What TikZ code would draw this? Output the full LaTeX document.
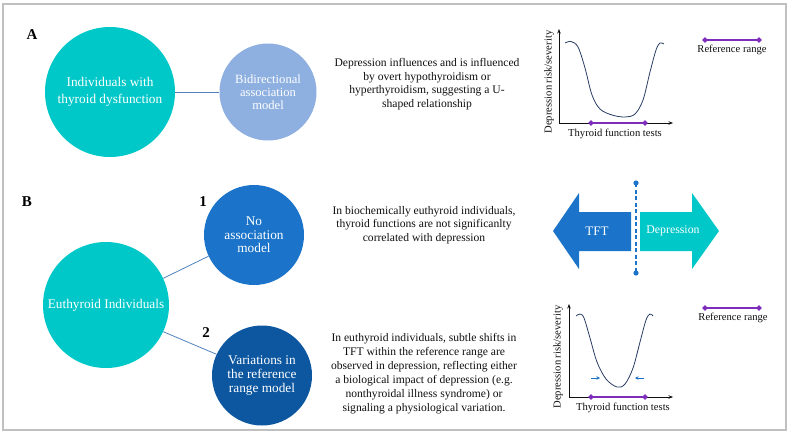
\documentclass[tikz,border=0pt]{standalone}
\usepackage{fontspec}
\setmainfont{Liberation Serif}
\usetikzlibrary{arrows.meta,shapes.geometric}
\definecolor{tealc}{RGB}{0,200,200}
\definecolor{lightb}{RGB}{141,176,224}
\definecolor{midb}{RGB}{27,116,201}
\definecolor{darkb}{RGB}{13,87,160}
\definecolor{linkb}{RGB}{79,129,189}
\definecolor{refp}{RGB}{125,45,185}
\definecolor{curvec}{RGB}{40,60,100}
\definecolor{framec}{RGB}{192,192,192}
\definecolor{txt}{RGB}{15,15,15}
\begin{document}
\begin{tikzpicture}[x=1pt,y=-1pt,
  circ/.style={circle, inner sep=0pt, text=white, align=center, font=\fontsize{13}{14}\selectfont},
  desc/.style={align=center, text=txt, font=\fontsize{11.6}{13.6}\selectfont},
  lbl/.style={text=txt, font=\fontsize{10.6}{12}\selectfont, inner sep=0pt},
  panel/.style={text=black, font=\bfseries\fontsize{15}{17}\selectfont, inner sep=0pt},
  link/.style={draw=linkb, line width=0.8pt},
  refbar/.style={draw=refp, line width=2.2pt},
  dmd/.style={diamond, fill=refp, minimum size=6pt, inner sep=0pt},
  axis/.style={line width=0.7pt, draw=txt, -{Stealth[length=4.5pt,width=3.5pt]}},
  curve/.style={draw=curvec, line width=0.8pt},
  shift arrow/.style={draw=midb, line width=1pt, -{Stealth[length=3.5pt,width=3.5pt]}}
]
\useasboundingbox (0,0) rectangle (791,434);
\draw[framec, line width=2pt] (3,4) rectangle (786,430);

% ---------------- Panel A ----------------
\node[panel] (A) at (32,35) {A};
\node[circ, fill=tealc, minimum size=130pt, font=\fontsize{13.3}{16.5}\selectfont] (c1) at (110,92) {Individuals with\\thyroid dysfunction};
\node[circ, fill=lightb, minimum size=97pt, font=\fontsize{12.6}{12.8}\selectfont] (c2) at (268,92) {Bidirectional\\association\\model};
\draw[link] (c1) -- (c2);
\node[desc] (tA) at (427,84) {Depression influences and is influenced\\by overt hypothyroidism or\\hyperthyroidism, suggesting a U-\\shaped relationship};

% graph A
\coordinate (oA) at (559,123);
\coordinate (yA) at (559,29);
\coordinate (xA) at (673,123);
\draw[axis] (oA) -- (yA);
\draw[axis] (oA) -- (xA);
\draw[curve] plot[smooth, tension=0.55] coordinates {(565,43) (571,41.5) (578,47) (585,68) (592,95) (600,109) (612,115) (625,117) (635,114) (643,100) (650,72) (656,50) (660,43) (664,44)};
\node[dmd] (rA1) at (591,123) {};
\node[dmd] (rA2) at (645,123) {};
\draw[refbar] (rA1.center) -- (rA2.center);
\node[lbl] (xlA) at (615,134) {Thyroid function tests};
\node[lbl, rotate=90] (ylA) at (549,82) {Depression risk/severity};
\node[dmd] (lA1) at (705,40) {};
\node[dmd] (lA2) at (759,40) {};
\draw[refbar] (lA1.center) -- (lA2.center);
\node[lbl] (lgA) at (732,49.5) {Reference range};

% ---------------- Panel B ----------------
\node[panel] (B) at (27,202) {B};
\node[panel] (n1) at (203,202) {1};
\node[panel] (n2) at (206,333) {2};
\node[circ, fill=tealc, minimum size=126pt, font=\fontsize{13.3}{16}\selectfont] (eu) at (106,305) {Euthyroid Individuals};
\node[circ, fill=midb, minimum size=100pt, font=\fontsize{13.3}{13.5}\selectfont] (na) at (254,235) {No\\association\\model};
\node[circ, fill=darkb, minimum size=100pt, font=\fontsize{13.3}{13.8}\selectfont] (vr) at (262,375.5) {Variations in\\the reference\\range model};
\draw[link] (eu.25) -- (na.205);
\draw[link] (eu.-25) -- (vr.155);
\node[desc] (t1) at (424,225) {In biochemically euthyroid individuals,\\thyroid functions are not significanlty\\correlated with depression};
\node[desc, font=\fontsize{11.6}{14}\selectfont] (t2) at (424,374) {In euthyroid individuals, subtle shifts in\\TFT within the reference range are\\observed in depression, reflecting either\\a biological impact of depression (e.g.\\nonthyroidal illness syndrome) or\\signaling a physiological variation.};

% arrows TFT / Depression
\fill[midb] (631,212) -- (579,212) -- (579,193) -- (553,231) -- (579,269) -- (579,251) -- (631,251) -- cycle;
\fill[tealc] (640,212) -- (692,212) -- (692,193) -- (719,231) -- (692,269) -- (692,251) -- (640,251) -- cycle;
\node[text=white, font=\fontsize{13}{14}\selectfont] (tft) at (597,231) {TFT};
\node[text=white, font=\fontsize{11.8}{13}\selectfont] (dep) at (673,231) {Depression};
\coordinate (dt) at (636,183);
\coordinate (db) at (636,273);
\draw[midb, line width=1.3pt, dash pattern=on 4pt off 2.5pt] (dt) -- (db);
\fill[midb] (dt) circle (2.6pt);
\fill[midb] (db) circle (2.6pt);

% graph B
\coordinate (oB) at (569,397);
\coordinate (yB) at (569,304);
\coordinate (xB) at (673,397);
\draw[axis] (oB) -- (yB);
\draw[axis] (oB) -- (xB);
\draw[curve] plot[smooth, tension=0.55] coordinates {(576,316) (580,314) (584,318) (590,338) (597,362) (606,379) (617,387) (625,384) (633,368) (640,342) (646,320) (650,314) (653,316)};
\coordinate (s1a) at (591,378);
\coordinate (s1b) at (600,378);
\coordinate (s2a) at (644,378);
\coordinate (s2b) at (635,378);
\draw[shift arrow] (s1a) -- (s1b);
\draw[shift arrow] (s2a) -- (s2b);
\node[dmd] (rB1) at (591,397) {};
\node[dmd] (rB2) at (645,397) {};
\draw[refbar] (rB1.center) -- (rB2.center);
\node[lbl] (xlB) at (623,408) {Thyroid function tests};
\node[lbl, rotate=90] (ylB) at (558,357) {Depression risk/severity};
\node[dmd] (lB1) at (705,308) {};
\node[dmd] (lB2) at (759,308) {};
\draw[refbar] (lB1.center) -- (lB2.center);
\node[lbl] (lgB) at (733,317.5) {Reference range};
\end{tikzpicture}
\end{document}
